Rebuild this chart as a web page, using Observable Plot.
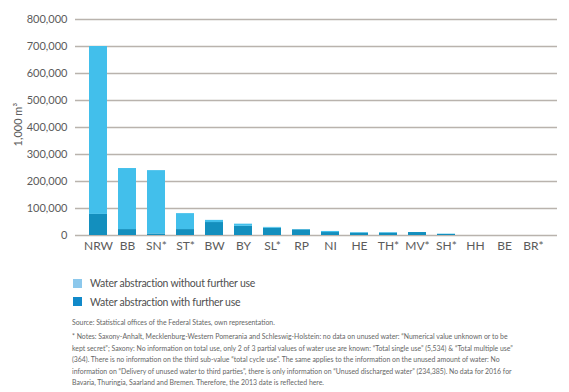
<!DOCTYPE html>
<html>
<head>
<meta charset="utf-8">
<script src="https://cdn.jsdelivr.net/npm/d3@7"></script>
<script src="https://cdn.jsdelivr.net/npm/@observablehq/plot@0.6"></script>
<style>
  body { margin: 0; background: #fff; font-family: Lato, "Open Sans", sans-serif; color: #5b5b5b; }
  #wrap { position: relative; width: 569px; }
  .legend { margin-left: 73px; margin-top: 14px; font-size: 10.5px; letter-spacing: -0.25px; color: #4f4f4f; }
  .legend div { display: flex; align-items: center; height: 18.5px; }
  .legend span.sw { width: 9px; height: 9px; display: inline-block; margin-right: 8px; }
  .src { margin-left: 72px; margin-top: 7px; font-size: 6.9px; color: #666; }
  .notes { margin-left: 72px; margin-top: 5px; width: 450px; font-size: 6.9px; line-height: 11.5px; color: #666; }
</style>
</head>
<body>
<div id="wrap"></div>
<script>
const states = ["NRW","BB","SN*","ST*","BW","BY","SL*","RP","NI","HE","TH*","MV*","SH*","HH","BE","BR*"];
const withUse = [78000, 22000, 5898, 22000, 48000, 34000, 27000, 21000, 11000, 9000, 9000, 11000, 4000, 0, 0, 0];
const withoutUse = [622000, 226000, 234385, 59000, 8000, 8000, 3000, 1000, 4000, 2000, 2000, 0, 1000, 0, 0, 0];
const seriesNames = ["Water abstraction with further use", "Water abstraction without further use"];
const seriesColors = ["#138fbe", "#42bfeb"];
const legendColors = ["#1189c9", "#8cc8ec"];
const yTicks = [0, 100000, 200000, 300000, 400000, 500000, 600000, 700000, 800000];
const yLabel = "1,000 m³";

const rows = [];
states.forEach((s, i) => {
  rows.push({state: s, series: seriesNames[0], value: withUse[i]});
  rows.push({state: s, series: seriesNames[1], value: withoutUse[i]});
});

const fmt = d3.format(",");
const chart = Plot.plot({
  width: 569,
  height: 260,
  marginTop: 19,
  marginBottom: 25,
  marginLeft: 75,
  marginRight: 12,
  style: {fontFamily: "Lato, 'Open Sans', sans-serif", color: "#5b5b5b", background: "#fff"},
  x: {domain: states, padding: 0.37, label: null},
  y: {domain: [0, 800000], label: null},
  color: {domain: seriesNames, range: seriesColors},
  marks: [
    Plot.gridY(yTicks, {stroke: "#b9b3ad", strokeOpacity: 1, strokeWidth: 1.3}),
    Plot.barY(rows, Plot.stackY({x: "state", y: "value", fill: "series", order: seriesNames})),
    Plot.axisY(yTicks, {tickSize: 0, tickPadding: 8, tickFormat: fmt, fontSize: 11, fill: "#5b5b5b", label: null}),
    Plot.axisX({tickSize: 0, tickPadding: 6, fontSize: 12, fill: "#5b5b5b", label: null}),
    Plot.text([yLabel], {frameAnchor: "left", dx: -57, dy: 19, rotate: -90, fontSize: 11, fill: "#5b5b5b"})
  ]
});
const wrap = document.getElementById("wrap");
wrap.appendChild(chart);

const leg = document.createElement("div");
leg.className = "legend";
[1, 0].forEach(i => {
  const row = document.createElement("div");
  row.innerHTML = `<span class="sw" style="background:${legendColors[i]}"></span>${seriesNames[i]}`;
  leg.appendChild(row);
});
wrap.appendChild(leg);

const src = document.createElement("div");
src.className = "src";
src.textContent = "Source: Statistical offices of the Federal States, own representation.";
wrap.appendChild(src);

const notes = document.createElement("div");
notes.className = "notes";
notes.textContent = "* Notes: Saxony-Anhalt, Mecklenburg-Western Pomerania and Schleswig-Holstein: no data on unused water: \u201cNumerical value unknown or to be kept secret\u201d; Saxony: No information on total use, only 2 of 3 partial values of water use are known: \u201cTotal single use\u201d (5,534) & \u201cTotal multiple use\u201d (364). There is no information on the third sub-value \u201ctotal cycle use\u201d. The same applies to the information on the unused amount of water: No information on \u201cDelivery of unused water to third parties\u201d, there is only information on \u201cUnused discharged water\u201d (234,385). No data for 2016 for Bavaria, Thuringia, Saarland and Bremen. Therefore, the 2013 date is reflected here.";
wrap.appendChild(notes);
</script>
</body>
</html>
